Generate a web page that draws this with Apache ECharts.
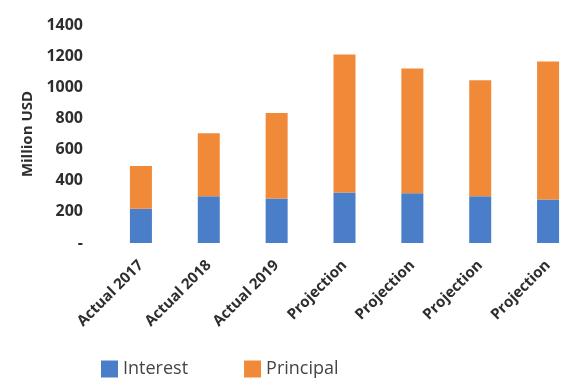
<!DOCTYPE html>
<html>
<head>
<meta charset="utf-8">
<style>
  html, body { margin: 0; padding: 0; background: #ffffff; }
  #chart { width: 582px; height: 381px; }
</style>
<script src="https://cdn.jsdelivr.net/npm/echarts@6/dist/echarts.min.js"></script>
</head>
<body>
<div id="chart"></div>
<script>
// Debt service: interest and principal, million USD
const categories = ['Actual 2017', 'Actual 2018', 'Actual 2019', 'Projection', 'Projection', 'Projection', 'Projection'];
const interest = [220, 300, 285, 325, 320, 300, 280];
const principal = [275, 405, 550, 885, 800, 745, 885];
const yTicks = { min: 0, max: 1400, step: 200 };

const FONT = '"Open Sans", "Liberation Sans", sans-serif';
const AXIS_TEXT = '#2e2e2e';
const LEGEND_TEXT = '#454545';

const chart = echarts.init(document.getElementById('chart'), null, { renderer: 'canvas' });

chart.setOption({
  backgroundColor: '#ffffff',
  animation: false,
  grid: { left: 107, top: 25, width: 498, height: 218, containLabel: false },
  legend: {
    left: 96,
    top: 355,
    itemWidth: 17,
    itemHeight: 17,
    itemGap: 56,
    icon: 'rect',
    textStyle: { fontFamily: FONT, fontSize: 18, color: LEGEND_TEXT, padding: [3, 0, 0, 0] },
    data: ['Interest', 'Principal']
  },
  xAxis: {
    type: 'category',
    data: categories,
    axisLine: { show: false },
    axisTick: { show: false },
    axisLabel: {
      rotate: 45,
      interval: 0,
      margin: 20,
      fontFamily: FONT,
      fontSize: 15,
      fontWeight: 'bold',
      color: AXIS_TEXT
    }
  },
  yAxis: {
    type: 'value',
    min: yTicks.min,
    max: yTicks.max,
    interval: yTicks.step,
    name: 'Million USD',
    nameLocation: 'middle',
    nameRotate: 90,
    nameGap: 70,
    nameTextStyle: { fontFamily: FONT, fontSize: 15, fontWeight: 'bold', color: AXIS_TEXT },
    axisLine: { show: false },
    axisTick: { show: false },
    splitLine: { show: false },
    axisLabel: {
      margin: 24,
      fontFamily: FONT,
      fontSize: 16,
      fontWeight: 'bold',
      color: AXIS_TEXT,
      formatter: v => (v === 0 ? '-' : String(v))
    }
  },
  series: [
    {
      name: 'Interest',
      type: 'bar',
      stack: 'total',
      barWidth: 22,
      itemStyle: { color: '#4a7ec8' },
      data: interest
    },
    {
      name: 'Principal',
      type: 'bar',
      stack: 'total',
      barWidth: 22,
      itemStyle: { color: '#f08a38' },
      data: principal
    }
  ]
});
</script>
</body>
</html>
